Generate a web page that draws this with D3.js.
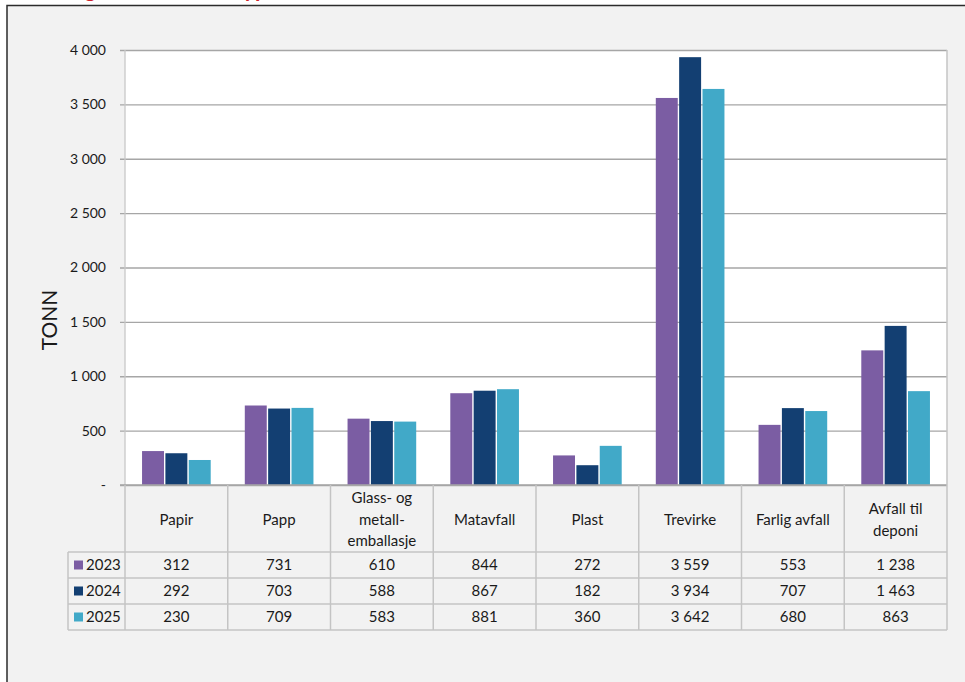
<!DOCTYPE html>
<html><head><meta charset="utf-8">
<script src="https://cdn.jsdelivr.net/npm/d3@7"></script>
<style>
html,body{margin:0;padding:0;background:#fff;}
svg{display:block;}
text{font-family:Lato,"Open Sans",sans-serif;fill:#1a1a1a;}
</style></head>
<body>
<svg id="c" width="965" height="682"></svg>
<script>
// ---- data ----
const categories = ["Papir","Papp","Glass- og metall-emballasje","Matavfall","Plast","Trevirke","Farlig avfall","Avfall til deponi"];
const categoryLines = [["Papir"],["Papp"],["Glass- og","metall-","emballasje"],["Matavfall"],["Plast"],["Trevirke"],["Farlig avfall"],["Avfall til","deponi"]];
const seriesNames = ["2023","2024","2025"];
const values2023 = [312,731,610,844,272,3559,553,1238];
const values2024 = [292,703,588,867,182,3934,707,1463];
const values2025 = [230,709,583,881,360,3642,680,863];
const yTicks = [0,500,1000,1500,2000,2500,3000,3500,4000];
const seriesColors = ["#7b5da3","#133f72","#41a9c8"];
const titleText = "Mengde avfall etter type";
const yTitle = "TONN";

const seriesValues = [values2023, values2024, values2025];

const svg = d3.select("#c");
const loc = d3.formatLocale({decimal:",",thousands:"\u00a0",grouping:[3],currency:["",""]});
const fmt = v => v === 0 ? "-" : loc.format(",")(v);

// header strip (title mostly cropped, as in the reference) and frame
svg.append("text").attr("x",40).attr("y",-3).attr("font-size",22).attr("font-weight","bold")
  .style("fill","#d0202a").text(titleText);
svg.append("rect").attr("x",7).attr("y",5.5).attr("width",1000).attr("height",700)
  .attr("fill","#f2f2f2").attr("stroke","#2b2b2b").attr("stroke-width",1.5);

const L = 125, R = 947, T = 50, B = 485;
const x = d3.scaleBand().domain(categories).range([L,R]).padding(0);
const x1 = d3.scaleBand().domain(seriesNames).range([0,x.bandwidth()]).paddingInner(0.06).paddingOuter(0.73);
const y = d3.scaleLinear().domain([0,4000]).range([B,T]);

// plot background
svg.append("rect").attr("x",L).attr("y",T).attr("width",R-L).attr("height",B-T).attr("fill","#fff");

// gridlines + y axis
const yAxis = d3.axisLeft(y).tickValues(yTicks).tickFormat(fmt).tickSize(-(R-L)).tickPadding(19);
const gy = svg.append("g").attr("transform",`translate(${L},0)`).call(yAxis);
gy.select(".domain").remove();
gy.selectAll(".tick line").attr("stroke","#a6a6a6").attr("stroke-width",1.3).attr("x1",-5);
gy.selectAll(".tick text").attr("font-size",14).attr("font-family","Lato, sans-serif").style("fill","#1a1a1a");
svg.append("line").attr("x1",L).attr("x2",L).attr("y1",T).attr("y2",B).attr("stroke","#c8c8c8").attr("stroke-width",1.3);

// bars
seriesNames.forEach((s,si)=>{
  svg.append("g").selectAll("rect").data(categories).join("rect")
    .attr("x",c=>x(c)+x1(s)).attr("width",x1.bandwidth())
    .attr("y",(c,i)=>y(seriesValues[si][i])).attr("height",(c,i)=>y(0)-y(seriesValues[si][i]))
    .attr("fill",seriesColors[si]);
});

// y title
svg.append("text").attr("transform","translate(57,320) rotate(-90)").attr("text-anchor","middle")
  .attr("font-size",21).text(yTitle);

// data table
const hdrBottom = 552, rowH = 26, tableLeft = 68;
const lineC = "#c4c4c4";
const tg = svg.append("g");
tg.append("line").attr("x1",L-5).attr("x2",R).attr("y1",B).attr("y2",B).attr("stroke","#a6a6a6").attr("stroke-width",1.3);
for(let r=0;r<=3;r++){
  tg.append("line").attr("x1",tableLeft).attr("x2",R).attr("y1",hdrBottom+r*rowH).attr("y2",hdrBottom+r*rowH)
    .attr("stroke",lineC).attr("stroke-width",1.5);
}
categories.forEach(c=>{
  tg.append("line").attr("x1",x(c)).attr("x2",x(c)).attr("y1",B).attr("y2",hdrBottom+3*rowH).attr("stroke",lineC).attr("stroke-width",1.5);
});
tg.append("line").attr("x1",R).attr("x2",R).attr("y1",T).attr("y2",hdrBottom+3*rowH).attr("stroke",lineC).attr("stroke-width",1.5);
tg.append("line").attr("x1",tableLeft).attr("x2",tableLeft).attr("y1",hdrBottom).attr("y2",hdrBottom+3*rowH).attr("stroke",lineC).attr("stroke-width",1.5);

// category labels
categories.forEach((c,i)=>{
  const lines = categoryLines[i];
  const lh = 21.5, cy = (B+hdrBottom)/2 + 1;
  const t = tg.append("text").attr("text-anchor","middle").attr("font-size",15);
  lines.forEach((ln,k)=>{
    t.append("tspan").attr("x",x(c)+x.bandwidth()/2)
      .attr("y",cy + (k-(lines.length-1)/2)*lh).attr("dy","0.35em").text(ln);
  });
});
// rows
seriesNames.forEach((s,si)=>{
  const cy = hdrBottom + si*rowH + rowH/2;
  tg.append("rect").attr("x",74).attr("y",cy-4.5).attr("width",9).attr("height",9).attr("fill",seriesColors[si]);
  tg.append("text").attr("x",86).attr("y",cy).attr("dy","0.35em").attr("font-size",15).text(s);
  categories.forEach((c,i)=>{
    tg.append("text").attr("x",x(c)+x.bandwidth()/2).attr("y",cy).attr("dy","0.35em")
      .attr("text-anchor","middle").attr("font-size",15).text(fmt(seriesValues[si][i]));
  });
});
</script>
</body></html>
